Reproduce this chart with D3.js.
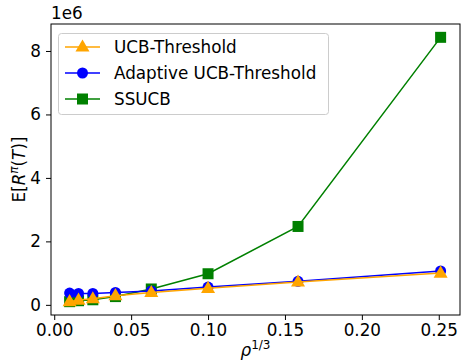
<!DOCTYPE html>
<html>
<head>
<meta charset="utf-8">
<script src="https://cdn.jsdelivr.net/npm/d3@7"></script>
<style>
  body { margin: 0; background: #fff; }
  text { font-family: "DejaVu Sans", sans-serif; }
</style>
</head>
<body>
<div id="chart"></div>
<script>
// x values (rho^(1/3))
const rhoVals = [0.01, 0.0158, 0.0251, 0.0398, 0.0631, 0.1, 0.1585, 0.2512];
// regret per algorithm
const ucbThreshold = [0.10e6, 0.15e6, 0.19e6, 0.29e6, 0.39e6, 0.52e6, 0.72e6, 1.0e6];
const adaptiveUcb = [0.37e6, 0.36e6, 0.36e6, 0.39e6, 0.44e6, 0.56e6, 0.74e6, 1.07e6];
const ssucb = [0.10e6, 0.13e6, 0.16e6, 0.26e6, 0.50e6, 0.98e6, 2.47e6, 8.43e6];
const xTicks = [0, 0.05, 0.1, 0.15, 0.2, 0.25];
const yTicks = [0, 2e6, 4e6, 6e6, 8e6];

const series = [
  { name: "SSUCB", values: ssucb, color: "green", marker: "square" },
  { name: "Adaptive UCB-Threshold", values: adaptiveUcb, color: "blue", marker: "circle" },
  { name: "UCB-Threshold", values: ucbThreshold, color: "orange", marker: "triangle" }
];
const legendOrder = ["UCB-Threshold", "Adaptive UCB-Threshold", "SSUCB"];

const width = 461, height = 363;
const margin = { top: 24, right: 1, bottom: 48, left: 51 };

const svg = d3.select("#chart").append("svg")
  .attr("width", width).attr("height", height);

const x = d3.scaleLinear()
  .domain([-0.0021, 0.2638])
  .range([margin.left, width - margin.right]);
const y = d3.scaleLinear()
  .domain([-0.32e6, 8.85e6])
  .range([height - margin.bottom, margin.top]);

const fs = 16.8;

// axes
const xAxis = svg.append("g")
  .attr("transform", "translate(0," + (height - margin.bottom) + ")")
  .call(d3.axisBottom(x).tickValues(xTicks).tickFormat(d3.format(".2f")).tickSizeOuter(0).tickSize(5).tickPadding(4));
const yAxis = svg.append("g")
  .attr("transform", "translate(" + margin.left + ",0)")
  .call(d3.axisLeft(y).tickValues(yTicks).tickFormat(d => d / 1e6).tickSizeOuter(0).tickSize(5).tickPadding(5));
[xAxis, yAxis].forEach(a => {
  a.selectAll("text").style("font-size", fs + "px").attr("fill", "#000")
    .style("font-family", "DejaVu Sans");
  a.selectAll("line").attr("stroke", "#000").attr("stroke-width", 1);
  a.select(".domain").remove();
});

// frame
svg.append("rect")
  .attr("x", margin.left).attr("y", margin.top)
  .attr("width", width - margin.right - margin.left)
  .attr("height", height - margin.bottom - margin.top)
  .attr("fill", "none").attr("stroke", "#000").attr("stroke-width", 1);

function drawMarker(g, type, cx, cy, color) {
  if (type === "circle") {
    g.append("circle").attr("cx", cx).attr("cy", cy).attr("r", 5.5).attr("fill", color);
  } else if (type === "square") {
    g.append("rect").attr("x", cx - 5.5).attr("y", cy - 5.5).attr("width", 11).attr("height", 11).attr("fill", color);
  } else {
    const sym = d3.symbol().type(d3.symbolTriangle).size(85);
    g.append("path").attr("d", sym()).attr("transform", "translate(" + cx + "," + (cy + 0.5) + ")").attr("fill", color);
  }
}

const line = d3.line().x(d => x(d[0])).y(d => y(d[1]));
series.forEach(s => {
  const pts = rhoVals.map((r, i) => [r, s.values[i]]);
  const g = svg.append("g");
  g.append("path").datum(pts).attr("d", line)
    .attr("fill", "none").attr("stroke", s.color).attr("stroke-width", 1.5);
  pts.forEach(p => drawMarker(g, s.marker, x(p[0]), y(p[1]), s.color));
});

// offset text
svg.append("text").attr("x", margin.left).attr("y", margin.top - 5)
  .style("font-size", fs + "px").text("1e6");

// axis labels
const xl = svg.append("text")
  .attr("x", (margin.left + width - margin.right) / 2)
  .attr("y", height - 7)
  .attr("text-anchor", "middle")
  .style("font-size", fs + "px");
xl.append("tspan").style("font-style", "italic").text("ρ");
xl.append("tspan").attr("dy", -7).style("font-size", "12px").text("1/3");

const yl = svg.append("text")
  .attr("transform", "translate(25," + ((margin.top + height - margin.bottom) / 2) + ") rotate(-90)")
  .attr("text-anchor", "middle")
  .style("font-size", fs + "px");
yl.append("tspan").text("E[");
yl.append("tspan").style("font-style", "italic").text("R");
yl.append("tspan").attr("dy", -7).style("font-size", "12px").style("font-style", "italic").text("π");
yl.append("tspan").attr("dy", 7).text("(");
yl.append("tspan").style("font-style", "italic").text("T");
yl.append("tspan").text(")]");

// legend
const leg = svg.append("g");
leg.append("rect").attr("x", 58.5).attr("y", 33.5).attr("width", 270).attr("height", 81)
  .attr("rx", 3).attr("fill", "#fff").attr("fill-opacity", 0.8)
  .attr("stroke", "#ccc").attr("stroke-width", 1);
legendOrder.forEach((name, i) => {
  const s = series.find(d => d.name === name);
  const cy = 47 + i * 26;
  leg.append("line").attr("x1", 65).attr("x2", 100).attr("y1", cy).attr("y2", cy)
    .attr("stroke", s.color).attr("stroke-width", 1.5);
  drawMarker(leg, s.marker, 82.5, cy, s.color);
  leg.append("text").attr("x", 114).attr("y", cy + 6)
    .style("font-size", fs + "px").text(name);
});
</script>
</body>
</html>
